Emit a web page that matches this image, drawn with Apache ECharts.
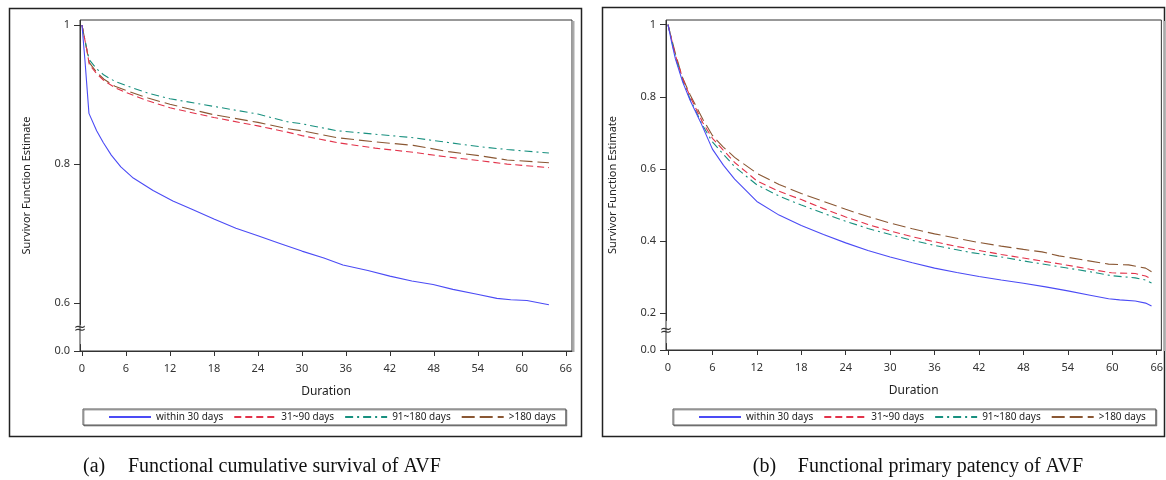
<!DOCTYPE html>
<html><head><meta charset="utf-8">
<script src="https://cdn.jsdelivr.net/npm/echarts@6/dist/echarts.min.js"></script>
<style>html,body{margin:0;padding:0;background:#fff}#c{width:1166px;height:480px}</style>
</head><body><div id="c"></div><script>
const seriesNames = ['within 30 days', '31~90 days', '91~180 days', '>180 days'];
const xTicks = [0, 6, 12, 18, 24, 30, 36, 42, 48, 54, 60, 66];
const yTicksA = [0, 0.6, 0.8, 1];
const yTicksB = [0, 0.2, 0.4, 0.6, 0.8, 1];
const captionA = ['(a)', 'Functional cumulative survival of AVF'];
const captionB = ['(b)', 'Functional primary patency of AVF'];

// Panel (a): functional cumulative survival, [duration, estimate]
const aWithin30 = [[0,1],[0.4,0.95],[0.95,0.873],[2,0.848],[2.9,0.831],[4,0.813],[5.3,0.796],[7,0.78],[9.7,0.762],[12.4,0.747],[15,0.735],[18,0.721],[21,0.708],[24,0.697],[27,0.686],[30,0.675],[33,0.665],[35.6,0.655],[39,0.647],[42,0.639],[45,0.632],[47.9,0.627],[50.6,0.62],[53.9,0.613],[56.6,0.607],[58.5,0.605],[60.7,0.604],[63.7,0.598]];
const a31to90 = [[0,1],[0.7,0.962],[1,0.943],[2,0.93],[3,0.92],[4.5,0.91],[6,0.903],[9,0.891],[12,0.881],[18,0.867],[24,0.855],[28,0.846],[30,0.841],[34.8,0.831],[40,0.823],[45.2,0.817],[50,0.81],[54.3,0.805],[58,0.8],[63.7,0.795]];
const a91to180 = [[0,1],[0.7,0.963],[1,0.95],[2,0.937],[3,0.928],[4.5,0.919],[6,0.913],[9,0.902],[12,0.894],[18,0.883],[24,0.872],[28,0.861],[30,0.858],[34.8,0.848],[40,0.843],[45.2,0.838],[50,0.831],[54.3,0.825],[58,0.821],[63.7,0.816]];
const aOver180 = [[0,1],[0.7,0.962],[1,0.946],[2,0.932],[3,0.922],[4.5,0.912],[6,0.906],[9,0.895],[12,0.886],[18,0.871],[24,0.86],[28,0.851],[30,0.848],[34.8,0.838],[40,0.832],[45.2,0.827],[50,0.818],[54.3,0.812],[58,0.806],[63.7,0.802]];

// Panel (b): functional primary patency
const bWithin30 = [[0,1],[0.5,0.95],[1,0.905],[2,0.84],[3,0.79],[4.5,0.725],[6,0.655],[7.5,0.61],[9,0.572],[12,0.51],[15,0.472],[18,0.443],[21,0.418],[24,0.395],[27,0.374],[30,0.356],[33,0.34],[36,0.325],[39,0.313],[42,0.302],[45,0.292],[48,0.283],[51,0.273],[54,0.262],[57,0.25],[59.5,0.24],[61,0.237],[63.1,0.234],[64.5,0.228],[65.3,0.22]];
const b31to90 = [[0,1],[1,0.915],[2,0.85],[3,0.8],[4.7,0.728],[6,0.685],[9,0.618],[12,0.567],[15,0.538],[18,0.515],[21,0.49],[24,0.467],[27,0.446],[30,0.428],[33,0.412],[36,0.398],[39,0.385],[42,0.374],[45,0.363],[48,0.353],[51,0.343],[53.7,0.334],[57,0.322],[59.9,0.312],[63.1,0.31],[64.5,0.303],[65.3,0.295]];
const b91to180 = [[0,1],[1,0.91],[2,0.845],[3,0.793],[4.7,0.72],[6,0.675],[9,0.606],[12,0.556],[15,0.525],[18,0.5],[21,0.477],[24,0.455],[27,0.435],[30,0.418],[33,0.402],[36,0.388],[39,0.376],[41,0.368],[45,0.356],[48,0.345],[51,0.335],[53.7,0.326],[57,0.315],[59.9,0.304],[63.1,0.298],[64.5,0.292],[65.3,0.284]];
const bOver180 = [[0,1],[1,0.92],[1.9,0.856],[3,0.805],[4.7,0.738],[6,0.693],[7.4,0.662],[9,0.632],[12,0.588],[15,0.557],[18,0.532],[21,0.51],[24,0.488],[27,0.468],[30,0.45],[33,0.434],[36,0.42],[39,0.408],[42,0.396],[45,0.386],[48,0.377],[50.5,0.37],[52.8,0.359],[56,0.348],[59.5,0.336],[62.2,0.334],[64.5,0.325],[65.3,0.315]];

const colors = ['#4b4bf5', '#e2334a', '#18907f', '#8a5733'];
const dashes = ['solid', [7, 4], [8, 4, 2, 4], [13, 5]];
const sans = 'Noto Sans';
const serif = 'Liberation Serif';

const chart = echarts.init(document.getElementById('c'), null, {renderer: 'canvas'});

function xAxisCfg(gi, max) {
  return {
    type: 'value', gridIndex: gi, min: -0.27, max: max,
    name: 'Duration', nameLocation: 'middle', nameGap: 35,
    nameTextStyle: {fontFamily: sans, fontSize: 12, color: '#222'},
    axisLine: {show: true, onZero: false, lineStyle: {color: '#333'}},
    axisTick: {show: true, length: 5, customValues: xTicks, lineStyle: {color: '#333'}},
    axisLabel: {customValues: xTicks, fontFamily: sans, fontSize: 11, color: '#333', margin: 12},
    splitLine: {show: false}
  };
}
function yAxisCfg(gi, max, ticks, brk) {
  return {
    type: 'value', gridIndex: gi, min: 0, max: max,
    breaks: [brk],
    breakArea: {show: true, itemStyle: {color: 'rgba(0,0,0,0)', borderColor: 'rgba(0,0,0,0)', borderWidth: 0}, expandOnClick: false},
    name: 'Survivor Function Estimate', nameLocation: 'middle', nameGap: 48,
    nameTextStyle: {fontFamily: sans, fontSize: 11, color: '#222'},
    axisLine: {show: true, onZero: false, lineStyle: {color: '#333'}},
    axisTick: {show: true, length: 6, customValues: ticks, lineStyle: {color: '#333'}},
    axisLabel: {customValues: ticks, fontFamily: sans, fontSize: 11, color: '#333', margin: 10,
      formatter: v => (v === 0 ? '0.0' : v === 1 ? '1' : v.toFixed(1))},
    splitLine: {show: false}
  };
}
function legendCfg(left) {
  return {
    left: left, top: 409, orient: 'horizontal',
    itemWidth: 42, itemHeight: 10, itemGap: 10,
    padding: [3, 10, 3, 25],
    borderColor: '#555', borderWidth: 1,
    shadowColor: 'rgba(0,0,0,0.35)', shadowOffsetX: 1, shadowOffsetY: 1, shadowBlur: 0,
    backgroundColor: '#fff',
    itemStyle: {opacity: 0},
    textStyle: {fontFamily: sans, fontSize: 10, color: '#222'},
    data: seriesNames, selectedMode: false
  };
}
const panelData = [[aWithin30, a31to90, a91to180, aOver180], [bWithin30, b31to90, b91to180, bOver180]];
const series = [];
panelData.forEach((arr, gi) => {
  arr.forEach((d, i) => {
    series.push({
      type: 'line', name: seriesNames[i], xAxisIndex: gi, yAxisIndex: gi,
      data: d, symbol: 'none', showSymbol: false, smooth: false, silent: true,
      lineStyle: {color: colors[i], width: 1.1, type: dashes[i]},
      itemStyle: {color: colors[i]}, z: 10 - i
    });
  });
});

chart.setOption({
  animation: false,
  backgroundColor: '#fff',
  grid: [
    {left: 80, top: 20, width: 492, height: 331, show: true, borderColor: '#333', borderWidth: 1, containLabel: false},
    {left: 666, top: 20, width: 497, height: 330, show: true, borderColor: '#333', borderWidth: 1, containLabel: false}
  ],
  xAxis: [xAxisCfg(0, 66.85), xAxisCfg(1, 66.63)],
  yAxis: [
    yAxisCfg(0, 1.0072, yTicksA, {start: 0.01, end: 0.57, gap: 0.0286}),
    yAxisCfg(1, 1.013, yTicksB, {start: 0.02, end: 0.18, gap: 0.062})
  ],
  legend: [legendCfg(83), legendCfg(673)],
  series: series
});

// decorations: frames, break marks, captions
function textW(t, font) {
  const c = document.createElement('canvas').getContext('2d');
  c.font = font; return c.measureText(t).width;
}
const capFont = '20px "' + serif + '"';
const y0a = chart.convertToPixel({yAxisIndex: 0}, 0), y6a = chart.convertToPixel({yAxisIndex: 0}, 0.6);
const y0b = chart.convertToPixel({yAxisIndex: 1}, 0), y2b = chart.convertToPixel({yAxisIndex: 1}, 0.2);
const wB = textW(captionB[1], capFont);
const capBx = 1083 - wB;
chart.setOption({
  graphic: [
    {type: 'rect', shape: {x: 9.5, y: 8.5, width: 572, height: 428}, style: {fill: 'none', stroke: '#222', lineWidth: 1.5}, silent: true},
    {type: 'rect', shape: {x: 602.5, y: 7.5, width: 562, height: 429}, style: {fill: 'none', stroke: '#222', lineWidth: 1.5}, silent: true},
    {type: 'line', shape: {x1: 573.5, y1: 21, x2: 573.5, y2: 352}, style: {stroke: '#aaa', lineWidth: 2}, silent: true},
    {type: 'line', shape: {x1: 1164.5, y1: 21, x2: 1164.5, y2: 351}, style: {stroke: '#aaa', lineWidth: 2}, silent: true},
    {type: 'text', x: 80, y: y0a + (y6a - y0a) * 0.45, style: {text: '≈', font: '15px "DejaVu Sans"', fill: '#333', align: 'center', verticalAlign: 'middle'}, silent: true, z: 100},
    {type: 'text', x: 666, y: y0b + (y2b - y0b) * 0.5, style: {text: '≈', font: '15px "DejaVu Sans"', fill: '#333', align: 'center', verticalAlign: 'middle'}, silent: true, z: 100},
    {type: 'text', x: 83, y: 467, style: {text: captionA[0], font: capFont, fill: '#111', verticalAlign: 'middle'}, silent: true},
    {type: 'text', x: 128, y: 467, style: {text: captionA[1], font: capFont, fill: '#111', verticalAlign: 'middle'}, silent: true},
    {type: 'text', x: capBx - 45, y: 467, style: {text: captionB[0], font: capFont, fill: '#111', verticalAlign: 'middle'}, silent: true},
    {type: 'text', x: capBx, y: 467, style: {text: captionB[1], font: capFont, fill: '#111', verticalAlign: 'middle'}, silent: true}
  ]
});
</script></body></html>
